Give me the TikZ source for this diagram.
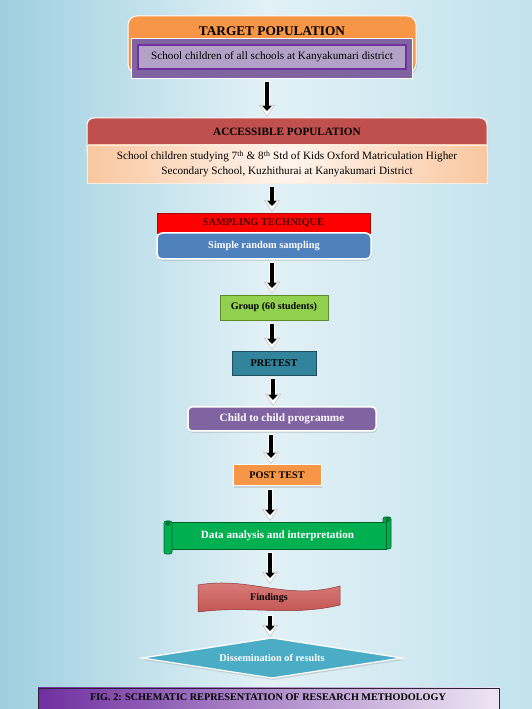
\documentclass[tikz,border=0pt]{standalone}
\usepackage{fontspec}
\setmainfont{Liberation Serif}
\usetikzlibrary{arrows.meta,shapes.geometric,shadows,calc}
\definecolor{bgL}{HTML}{9ECFDF}
\definecolor{bgM}{HTML}{E2F1F6}
\definecolor{bgR}{HTML}{C2E2EC}
\definecolor{orgF}{HTML}{F79646}
\definecolor{purF}{HTML}{8064A2}
\definecolor{lavF}{HTML}{B3A2C7}
\definecolor{purD}{HTML}{7030A0}
\definecolor{accR}{HTML}{C0504D}
\definecolor{peachD}{HTML}{F9C7A0}
\definecolor{peachL}{HTML}{FFF5EE}
\definecolor{sampD}{HTML}{B00000}
\definecolor{sampT}{HTML}{4A0000}
\definecolor{blueF}{HTML}{4F81BD}
\definecolor{grpF}{HTML}{92D050}
\definecolor{grpD}{HTML}{5E8A32}
\definecolor{preF}{HTML}{31849B}
\definecolor{preD}{HTML}{1F4E5E}
\definecolor{datF}{HTML}{00B050}
\definecolor{datD}{HTML}{00602B}
\definecolor{findL}{HTML}{DC8482}
\definecolor{findF}{HTML}{C0504D}
\definecolor{findD}{HTML}{8C3836}
\definecolor{dissF}{HTML}{4BACC6}
\definecolor{capL}{HTML}{7030A0}
\definecolor{capR}{HTML}{EEE6F4}
\definecolor{capD}{HTML}{2E2236}
\begin{document}
\begin{tikzpicture}[x=1pt,y=1pt,
  flowbox/.style={inner sep=0pt, outer sep=0pt},
  whitearrow/.style={draw=white, line width=6pt, shorten <=3pt, shorten >=1pt,
    -{Triangle[width=16pt,length=12pt,color=gray!45,fill=white,line width=0.6pt]}},
  blackarrow/.style={draw=black, line width=4pt, shorten <=4pt, shorten >=7pt,
    -{Triangle[width=9pt,length=5pt]}},
  softshadow/.style={drop shadow={opacity=0.25, shadow xshift=1pt, shadow yshift=-2pt}}
]
\useasboundingbox (0,0) rectangle (532,709);
\shade[left color=bgL, right color=bgR, middle color=bgM] (0,0) rectangle (532,709);

% target population
\node[flowbox, fill=orgF, draw=white, line width=1pt, rounded corners=9pt,
  minimum width=288, minimum height=57, softshadow] (target) at (272,664.5) {};
\node[font=\bfseries\fontsize{13.3}{15}\selectfont] (ttitle) at (272,678) {TARGET POPULATION};
\node[flowbox, fill=purF, draw=white, line width=0.8pt, minimum width=281, minimum height=40] (tpo) at (271.5,651) {};
\node[flowbox, fill=lavF, draw=purD, line width=1.5pt, minimum width=268, minimum height=24,
  font=\fontsize{11.2}{13}\selectfont] (tpi) at (272,652) {School children of all schools at Kanyakumari district};

% accessible population
\node[flowbox, fill=accR, draw=white, line width=1pt, rounded corners=7pt,
  minimum width=400, minimum height=40, softshadow] (accbg) at (287,571) {};
\node[font=\bfseries\fontsize{11.2}{13}\selectfont] (acct) at (287,577.5) {ACCESSIBLE POPULATION};
\node[flowbox, left color=peachD, right color=peachD, middle color=peachL, draw=white!70!peachD,
  minimum width=400, minimum height=38, align=center, font=\fontsize{11.2}{15}\selectfont] (acc) at (287,545)
  {School children studying 7\textsuperscript{th} \& 8\textsuperscript{th} Std of Kids Oxford Matriculation Higher\\Secondary School, Kuzhithurai at Kanyakumari District};

% sampling
\node[flowbox, fill=red, draw=sampD, line width=0.6pt, minimum width=213, minimum height=20,
  font=\bfseries\fontsize{10.3}{12}\selectfont, text=sampT] (samp) at (263.5,486) {SAMPLING TECHNIQUE};
\node[flowbox, fill=blueF, draw=white, line width=1.5pt, rounded corners=5pt, minimum width=214, minimum height=26,
  text=white, font=\bfseries\fontsize{10.4}{12}\selectfont, softshadow] (srs) at (264,463) {Simple random sampling};

\node[flowbox, fill=grpF, draw=grpD, line width=0.6pt, minimum width=108, minimum height=25,
  font=\bfseries\fontsize{10.1}{12}\selectfont] (grp) at (274,401.5) {Group (60 students)};
\node[flowbox, fill=preF, draw=preD, line width=0.6pt, minimum width=84, minimum height=24,
  font=\bfseries\fontsize{10.3}{12}\selectfont] (pre) at (274,346) {PRETEST};
\node[flowbox, fill=purF, draw=white, line width=1.5pt, rounded corners=4pt, minimum width=188, minimum height=24,
  text=white, font=\bfseries\fontsize{11.2}{13}\selectfont, softshadow] (child) at (282,290) {Child to child programme};
\node[flowbox, fill=orgF, draw=white, line width=1pt, minimum width=88, minimum height=21,
  font=\bfseries\fontsize{10.2}{12}\selectfont, softshadow] (post) at (277,233.5) {POST TEST};

% data analysis scroll
\draw[fill=datF, draw=datD, line width=0.6pt, rounded corners=2pt] (383,160) rectangle (391,192);
\node[flowbox, fill=datF, draw=datD, line width=0.6pt, minimum width=217, minimum height=27,
  text=white, font=\bfseries\fontsize{11.1}{13}\selectfont] (data) at (277.5,173.5) {Data analysis and interpretation};
\draw[fill=datF, draw=datD, line width=0.6pt, rounded corners=2pt] (164,155) rectangle (172,188);
\draw[fill=datF!70!black, draw=datD, line width=0.5pt] (168,185.5) circle (2pt);
\draw[fill=datF!70!black, draw=datD, line width=0.5pt] (387.5,189.5) circle (2pt);

% findings wave
\shade[top color=findL, bottom color=findF, draw=findD, line width=0.5pt]
  (198,124) .. controls (250,133) and (285,108) .. (340,123)
  -- (340,104) .. controls (290,92) and (250,104) .. (198,97) -- cycle;
\node[flowbox, minimum width=142, minimum height=27, font=\bfseries\fontsize{10.1}{12}\selectfont] (find) at (269,110.5) {Findings};

% dissemination
\node[flowbox, diamond, aspect=6.5, minimum width=260, minimum height=40, fill=dissF, draw=white, line width=1.2pt,
  text=white, font=\bfseries\fontsize{10.3}{12}\selectfont, softshadow] (diss) at (272,51) {Dissemination of results};

% caption
\node[flowbox, left color=capL, right color=capR, draw=capD, line width=0.6pt, minimum width=461, minimum height=26] (cap) at (268.5,8) {};
\node[font=\bfseries\fontsize{10.2}{12}\selectfont] (captxt) at (268,11.5) {FIG. 2: SCHEMATIC REPRESENTATION OF RESEARCH METHODOLOGY};

% arrows
\foreach \xa/\na/\nb in {267/tpo/accbg, 272/acc/samp, 272/srs/grp, 272/grp/pre, 273/pre/child,
    271/child/post, 270/post/data, 270/data/find, 270/find/diss}{
  \draw[whitearrow] (\xa,0 |- \na.south) -- (\xa,0 |- \nb.north);
  \draw[blackarrow] (\xa,0 |- \na.south) -- (\xa,0 |- \nb.north);
}
\end{tikzpicture}
\end{document}
